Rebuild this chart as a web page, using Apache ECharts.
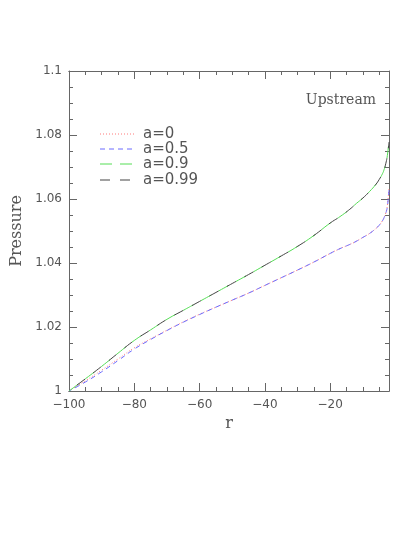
<!DOCTYPE html>
<html>
<head>
    <meta charset="utf-8">
    <title>Upstream pressure</title>
    <script src="https://cdn.jsdelivr.net/npm/echarts@6/dist/echarts.min.js"></script>
    <style>
        body { margin: 0; background: #fff; }
        #main { width: 415px; height: 537px; }
    </style>
</head>
<body>
    <div id="main"></div>
    <script type="text/javascript">
        // r positions
        var rValues = [-100, -95, -90, -85, -80, -75, -70, -65, -60, -55, -50, -45, -40, -35, -30,
            -25, -20, -17, -14, -12, -10, -8, -6, -5, -4, -3.5, -3, -2.5, -2];

        // pressure for each spin value
        var pA0 = [1.0000, 1.0032, 1.0065, 1.0100, 1.0135, 1.0163, 1.0190, 1.0216, 1.0240, 1.0262, 1.0284,
            1.0306, 1.0330, 1.0354, 1.0378, 1.0403, 1.0430, 1.0445, 1.0458, 1.0468, 1.0480, 1.0492,
            1.0508, 1.0518, 1.0532, 1.0542, 1.0556, 1.0580, 1.0636];
        var pA05 = [1.0000, 1.0028, 1.0060, 1.0095, 1.0131, 1.0161, 1.0189, 1.0215, 1.0239, 1.0262, 1.0284,
            1.0306, 1.0330, 1.0354, 1.0378, 1.0403, 1.0430, 1.0445, 1.0458, 1.0468, 1.0480, 1.0492,
            1.0508, 1.0518, 1.0532, 1.0542, 1.0555, 1.0576, 1.0628];
        var pA09 = [1.0000, 1.0038, 1.0077, 1.0118, 1.0158, 1.0191, 1.0224, 1.0252, 1.0280, 1.0308, 1.0336,
            1.0364, 1.0393, 1.0422, 1.0452, 1.0486, 1.0525, 1.0545, 1.0568, 1.0586, 1.0603, 1.0623,
            1.0646, 1.0661, 1.0679, 1.0692, 1.0710, 1.0736, 1.0780];
        var pA099 = [1.0000, 1.0038, 1.0077, 1.0118, 1.0158, 1.0191, 1.0224, 1.0252, 1.0280, 1.0308, 1.0336,
            1.0364, 1.0393, 1.0422, 1.0452, 1.0486, 1.0525, 1.0545, 1.0568, 1.0586, 1.0603, 1.0623,
            1.0646, 1.0661, 1.0679, 1.0692, 1.0710, 1.0736, 1.0778];

        var seriesNames = ['a=0', 'a=0.5', 'a=0.9', 'a=0.99'];
        var xTicks = [-100, -80, -60, -40, -20];

        var lineColors = ['#ff7a7a', '#6a6aff', '#55dd55', '#444'];
        var lineDashes = [[1, 2], [5, 4], [12, 8], [10, 10]];
        var dashOffsets = [0, 2, 0, 10];

        function pairs(ys) {
            var out = [];
            for (var i = 0; i < rValues.length; i++) {
                out.push([rValues[i], ys[i]]);
            }
            return out;
        }

        var axisColor = '#666';
        var textColor = '#555';

        var myChart = echarts.init(document.getElementById('main'));

        var gridBox = { left: 69, top: 71, width: 320, height: 320 };

        function xAxisCfg(gridIndex, pos, interval, len, showLabel) {
            return {
                type: 'value',
                gridIndex: gridIndex,
                position: pos,
                min: -100,
                max: -2,
                interval: interval,
                axisLine: { show: true, lineStyle: { color: axisColor, width: 1 } },
                axisTick: { show: true, inside: true, length: len, lineStyle: { color: axisColor } },
                axisLabel: {
                    show: showLabel,
                    margin: 8,
                    color: textColor,
                    fontFamily: 'DejaVu Sans',
                    fontSize: 12,
                    showMaxLabel: false,
                    formatter: function (v) {
                        return xTicks.indexOf(v) >= 0 ? String(v).replace('-', '\u2212') : '';
                    }
                },
                splitLine: { show: false }
            };
        }

        // hand-drawn legend (line samples + labels), top-left inside the plot
        var legendGraphics = [];
        var legendY = [134, 149, 164, 180];
        for (var k = 0; k < seriesNames.length; k++) {
            legendGraphics.push({
                type: 'line',
                shape: { x1: 100, y1: legendY[k], x2: 134, y2: legendY[k] },
                style: { stroke: lineColors[k], lineWidth: 1, lineDash: lineDashes[k] }
            });
            legendGraphics.push({
                type: 'text',
                x: 143,
                y: legendY[k],
                style: {
                    text: seriesNames[k],
                    fill: textColor,
                    font: '15px "DejaVu Sans"',
                    verticalAlign: 'middle'
                }
            });
        }

        var option = {
            animation: false,
            backgroundColor: '#fff',
            grid: [
                Object.assign({}, gridBox),
                Object.assign({}, gridBox)
            ],
            xAxis: [
                Object.assign(xAxisCfg(0, 'bottom', 20, 8, true), {
                    name: 'r',
                    nameLocation: 'middle',
                    nameGap: 17,
                    nameTextStyle: { color: textColor, fontFamily: 'DejaVu Serif', fontSize: 16 }
                }),
                xAxisCfg(0, 'top', 20, 8, false),
                xAxisCfg(1, 'bottom', 5, 4, false),
                xAxisCfg(1, 'top', 5, 4, false)
            ],
            yAxis: [
                {
                    type: 'value',
                    gridIndex: 0,
                    position: 'left',
                    min: 1,
                    max: 1.1,
                    interval: 0.02,
                    name: 'Pressure',
                    nameLocation: 'middle',
                    nameGap: 35,
                    nameTextStyle: { color: textColor, fontFamily: 'DejaVu Serif', fontSize: 16 },
                    axisLine: { show: true, lineStyle: { color: axisColor } },
                    axisTick: { show: true, inside: true, length: 8, lineStyle: { color: axisColor } },
                    minorTick: { show: true, splitNumber: 4, length: 4, lineStyle: { color: axisColor } },
                    axisLabel: { color: textColor, fontFamily: 'DejaVu Sans', fontSize: 12, margin: 7 },
                    splitLine: { show: false }
                },
                {
                    type: 'value',
                    gridIndex: 0,
                    position: 'right',
                    min: 1,
                    max: 1.1,
                    interval: 0.02,
                    axisLine: { show: true, lineStyle: { color: axisColor } },
                    axisTick: { show: true, inside: true, length: 8, lineStyle: { color: axisColor } },
                    minorTick: { show: true, splitNumber: 4, length: 4, lineStyle: { color: axisColor } },
                    axisLabel: { show: false },
                    splitLine: { show: false }
                },
                {
                    type: 'value',
                    gridIndex: 1,
                    min: 1,
                    max: 1.1,
                    show: false
                }
            ],
            graphic: [
                {
                    type: 'text',
                    x: 376,
                    y: 100,
                    style: {
                        text: 'Upstream',
                        fill: textColor,
                        font: '14px "DejaVu Serif"',
                        align: 'right',
                        verticalAlign: 'middle'
                    }
                }
            ].concat(legendGraphics),
            series: seriesNames.map(function (name, k) {
                return {
                    name: name,
                    type: 'line',
                    xAxisIndex: 0,
                    yAxisIndex: 0,
                    data: pairs([pA0, pA05, pA09, pA099][k]),
                    showSymbol: false,
                    symbol: 'none',
                    smooth: true,
                    lineStyle: {
                        color: lineColors[k],
                        width: 1,
                        type: lineDashes[k],
                        dashOffset: dashOffsets[k]
                    }
                };
            })
        };

        myChart.setOption(option);
    </script>
</body>
</html>
